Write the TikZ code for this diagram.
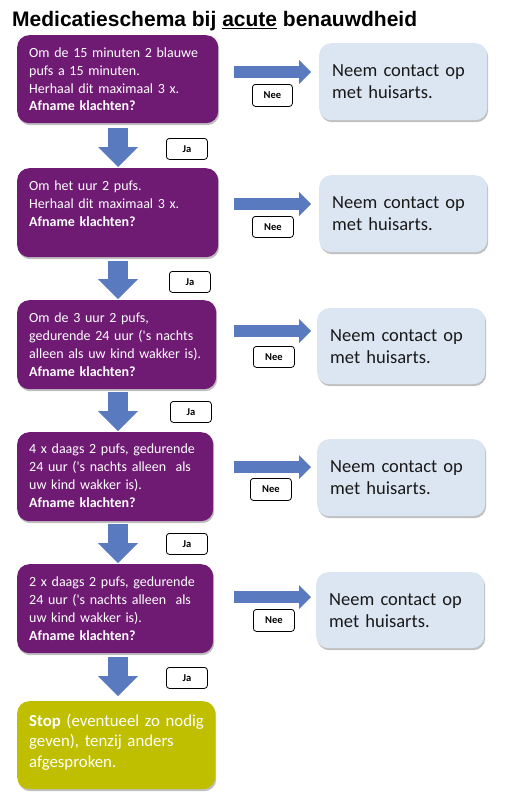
\documentclass[tikz,border=0pt]{standalone}
\usepackage{fontspec}
\setmainfont{Carlito}[Ligatures=TeXOff]
\newfontfamily\titlefont{Liberation Sans}
\usetikzlibrary{arrows.meta,shadows}
\definecolor{purp}{HTML}{6F1A73}
\definecolor{arrblue}{HTML}{5A7ABF}
\definecolor{lblue}{HTML}{DCE6F2}
\definecolor{olivegreen}{HTML}{BFBF00}
\tikzset{
  shad/.style={drop shadow={shadow xshift=1pt,shadow yshift=-2pt,opacity=.35,fill=black!70}},
  pbox/.style={fill=purp, rounded corners=12pt, inner sep=0pt, anchor=north west, shad},
  gbox/.style={fill=olivegreen, rounded corners=12pt, inner sep=0pt, anchor=north west, shad},
  hbox/.style={fill=lblue, rounded corners=12pt, inner sep=0pt, anchor=north west, minimum width=168pt, minimum height=77pt, shad},
  ptext/.style={text=white, font=\fontsize{14}{18}\selectfont, text width=195pt, align=left, inner sep=0pt, anchor=base west},
  gtext/.style={text=white, font=\fontsize{16.8}{20.5}\selectfont, text width=195pt, align=left, inner sep=0pt, anchor=base west},
  htext/.style={text=black!90, font=\fontsize{18.5}{22}\selectfont, text width=160pt, align=left, inner sep=0pt, anchor=base west},
  lab/.style={draw=black, fill=white, rounded corners=3pt, line width=0.8pt, inner sep=0pt, anchor=north west, minimum width=41pt, minimum height=21pt, font=\fontsize{10.5}{12}\selectfont\bfseries},
  darr/.style={draw=arrblue, line width=20pt, -{Triangle[length=20pt,width=40pt,line width=0pt]}},
  rarr/.style={draw=arrblue, line width=12pt, -{Triangle[length=12pt,width=24pt,line width=0pt]}},
}
\begin{document}
\begin{tikzpicture}[x=1pt,y=-1pt]
\useasboundingbox[fill=white] (0,0) rectangle (527,808);
\node[anchor=base west, inner sep=0pt, font=\titlefont\bfseries\fontsize{21}{24}\selectfont] (title) at (12,27) {Medicatieschema bij \underline{acute} benauwdheid};

% purple boxes
\node[pbox, minimum width=201pt, minimum height=88pt] (b1) at (17,35) {};
\node[pbox, minimum width=201pt, minimum height=89pt] (b2) at (17,168) {};
\node[pbox, minimum width=199pt, minimum height=89pt] (b3) at (17,300) {};
\node[pbox, minimum width=196pt, minimum height=89pt] (b4) at (17,432) {};
\node[pbox, minimum width=196pt, minimum height=89pt] (b5) at (17,564) {};
\node[gbox, minimum width=198pt, minimum height=88pt] (g) at (17,701) {};

\node[ptext] (t1) at (29,57) {Om de 15 minuten 2 blauwe\\pufs a 15 minuten.\\Herhaal dit maximaal 3 x.\\\textbf{Afname klachten?}};
\node[ptext] (t2) at (29,190) {Om het uur 2 pufs.\\Herhaal dit maximaal 3 x.\\\textbf{Afname klachten?}};
\node[ptext] (t3) at (29,322) {Om de 3 uur 2 pufs,\\gedurende 24 uur ('s nachts\\alleen als uw kind wakker is).\\\textbf{Afname klachten?}};
\node[ptext] (t4) at (29,453) {4 x daags 2 pufs, gedurende\\24 uur ('s nachts alleen\ \ als\\uw kind wakker is).\\\textbf{Afname klachten?}};
\node[ptext] (t5) at (29,586) {2 x daags 2 pufs, gedurende\\24 uur ('s nachts alleen\ \ als\\uw kind wakker is).\\\textbf{Afname klachten?}};
\node[gtext] (tg) at (29,726) {\textbf{Stop} (eventueel zo nodig\\geven), tenzij anders\\afgesproken.};

% light blue boxes
\node[hbox] (h1) at (319,43) {};
\node[hbox] (h2) at (319,175) {};
\node[hbox, minimum height=76pt] (h3) at (317,308) {};
\node[hbox] (h4) at (317,439) {};
\node[hbox, minimum height=76pt] (h5) at (316,572) {};
\node[htext] (s1) at (332,76) {Neem contact op\\met huisarts.};
\node[htext] (s2) at (332,208) {Neem contact op\\met huisarts.};
\node[htext] (s3) at (330,341) {Neem contact op\\met huisarts.};
\node[htext] (s4) at (330,472) {Neem contact op\\met huisarts.};
\node[htext] (s5) at (329,605) {Neem contact op\\met huisarts.};

% down arrows
\coordinate (ax) at (118,0);
\draw[darr, shorten <=5pt, shorten >=1pt] (b1.south -| ax) -- (b2.north -| ax);
\draw[darr, shorten <=4pt, shorten >=1pt] (b2.south -| ax) -- (b3.north -| ax);
\draw[darr, shorten <=3pt, shorten >=1pt] (b3.south -| ax) -- (b4.north -| ax);
\draw[darr, shorten <=3pt, shorten >=1pt] (b4.south -| ax) -- (b5.north -| ax);
\draw[darr, shorten <=4pt, shorten >=5pt] (b5.south -| ax) -- (g.north -| ax);

% right arrows
\coordinate (r1) at (234,72);
\coordinate (r2) at (234,204);
\coordinate (r3) at (234,331);
\coordinate (r4) at (234,467);
\coordinate (r5) at (234,597);
\draw[rarr, shorten >=8pt] (r1) -- (r1 -| h1.west);
\draw[rarr, shorten >=8pt] (r2) -- (r2 -| h2.west);
\draw[rarr, shorten >=6pt] (r3) -- (r3 -| h3.west);
\draw[rarr, shorten >=6pt] (r4) -- (r4 -| h4.west);
\draw[rarr, shorten >=5pt] (r5) -- (r5 -| h5.west);

% labels
\node[lab] (j1) at (166,138) {Ja};
\node[lab] (j2) at (169,271) {Ja};
\node[lab] (j3) at (170,401) {Ja};
\node[lab] (j4) at (166,533) {Ja};
\node[lab] (j5) at (166,667) {Ja};
\node[lab, minimum height=22pt, minimum width=40pt] (n1) at (252,84) {Nee};
\node[lab] (n2) at (252,216) {Nee};
\node[lab] (n3) at (253,346) {Nee};
\node[lab, minimum height=22pt] (n4) at (250,478) {Nee};
\node[lab, minimum height=22pt] (n5) at (253,609) {Nee};
\end{tikzpicture}
\end{document}
